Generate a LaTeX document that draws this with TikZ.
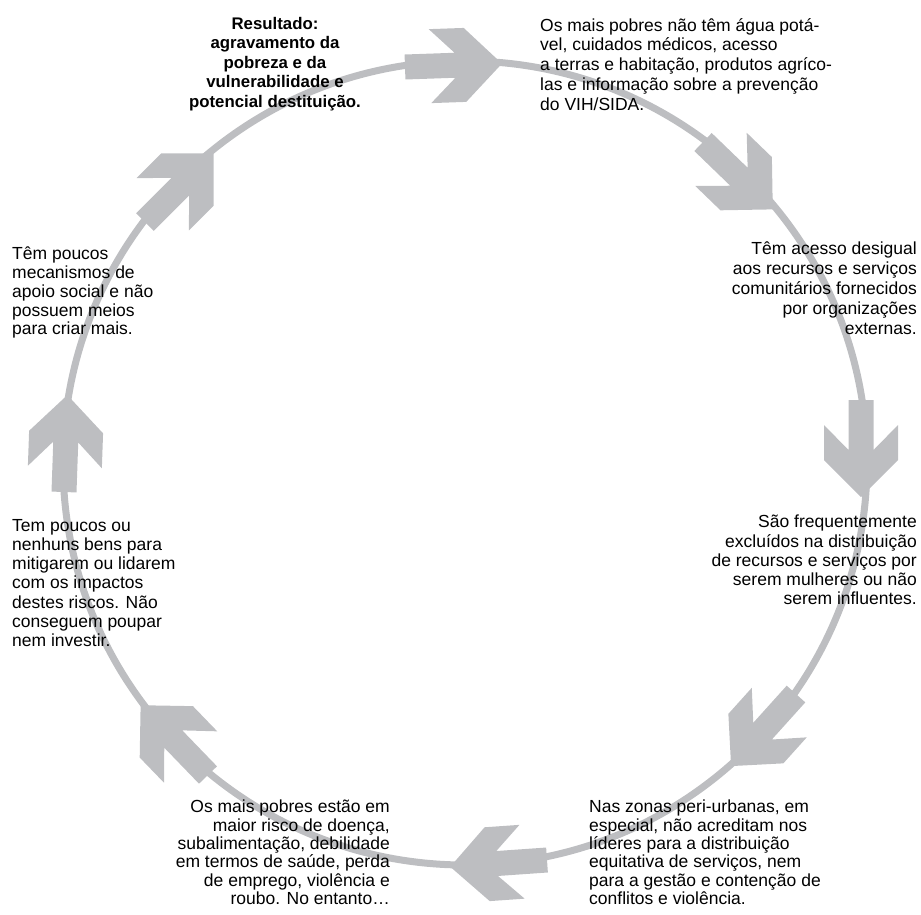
\documentclass[tikz,border=0pt]{standalone}
\usepackage{fontspec}
\setmainfont{Liberation Sans}
\definecolor{ringgray}{RGB}{189,190,193}

\begin{document}
\begin{tikzpicture}[x=1pt, y=-1pt,
      ring/.style={draw=ringgray, line width=7pt},
      bigarrow/.style={fill=ringgray},
      txt/.style={font=\fontsize{17.5}{#1}\selectfont, inner sep=0pt}, txt/.default=19,
      res/.style={font=\fontsize{16.8}{19.5}\selectfont\bfseries, inner sep=0pt, align=center}]
    \useasboundingbox (0,0) rectangle (921,914);
    \draw[ring] (465,463) circle[radius=402];
    \foreach \x/\y/\a in {405/67/2, 703/142/-44, 861/400/-90, 796/694/228, 547/860/184, 208/775/134, 64/492/88, 145/222/45}
      \fill[bigarrow, shift={(\x,\y)}, rotate=\a] (0,12.5) -- (50,12.5) -- (25,37) -- (60,37) -- (97,0)
        -- (60,-37) -- (25,-37) -- (50,-12.5) -- (0,-12.5) -- cycle;
    \node[res, anchor=north] (result) at (275,17) {Resultado:\\agravamento da\\pobreza e da\\vulnerabilidade e\\potencial destituição.};
    \node[txt=19.8, align=left, anchor=north west] (basic) at (540,18) {Os mais pobres não têm água potá-\\vel, cuidados médicos, acesso\\a terras e habitação, produtos agríco-\\las e informação sobre a prevenção\\do VIH/SIDA.};
    \node[txt=20, align=right, anchor=north east] (access) at (917,242) {Têm acesso desigual\\aos recursos e serviços\\comunitários fornecidos\\por organizações\\externas.};
    \node[txt=19.2, align=right, anchor=north east] (excluded) at (917,515) {São frequentemente\\excluídos na distribuição\\de recursos e serviços por\\serem mulheres ou não\\serem influentes.};
    \node[txt=18.3, align=left, anchor=north west] (leaders) at (589,800) {Nas zonas peri-urbanas, em\\especial, não acreditam nos\\líderes para a distribuição\\equitativa de serviços, nem\\para a gestão e contenção de\\conflitos e violência.};
    \node[txt=18.3, align=right, anchor=north east] (risk) at (390,800) {Os mais pobres estão em\\maior risco de doença,\\subalimentação, debilidade\\em termos de saúde, perda\\de emprego, violência e\\roubo. No entanto…};
    \node[txt=19.2, align=left, anchor=north west] (assets) at (12,519) {Tem poucos ou\\nenhuns bens para\\mitigarem ou lidarem\\com os impactos\\destes riscos. Não\\conseguem poupar\\nem investir.};
    \node[txt=18.75, align=left, anchor=north west] (support) at (12,247) {Têm poucos\\mecanismos de\\apoio social e não\\possuem meios\\para criar mais.};
  \end{tikzpicture}
\end{document}
